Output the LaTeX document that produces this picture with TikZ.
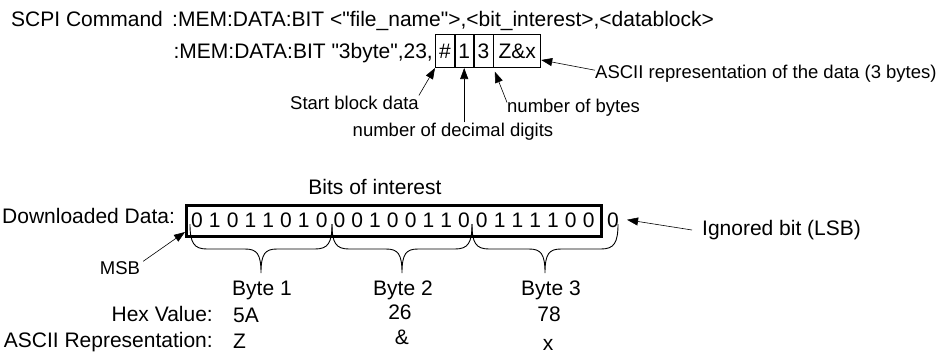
\documentclass[tikz,border=0pt]{standalone}
\usepackage{fontspec}
\setmainfont{Liberation Sans}[Ligatures=TeXOff]
\usetikzlibrary{arrows.meta}

\begin{document}
\begin{tikzpicture}[x=1pt,y=-1pt,
    txt/.style={font=\fontsize{21}{25}\selectfont,inner sep=0pt},
    note/.style={font=\fontsize{18.5}{22}\selectfont,inner sep=0pt},
    cell/.style={txt,draw,line width=0.8pt,minimum height=33pt,anchor=south west},
    pointer/.style={-{Triangle[length=11pt,width=8pt]},line width=0.6pt},
    brace/.style={line width=0.9pt}]
    \useasboundingbox (0,0) rectangle (938,357);
    \node[txt,anchor=base west](scpi) at (11,26){SCPI Command};
    \node[txt,anchor=base west](syntax) at (172,26){:MEM:DATA:BIT <"file\_name">,<bit\_interest>,<datablock>};
    \node[txt,anchor=base east](cmd) at (433,58){:MEM:DATA:BIT "3byte",23,};
    \node[cell,minimum width=19pt](hash) at (435,68){\#};%block header
    \node[cell,minimum width=18pt](one) at (hash.south east){1};
    \node[cell,minimum width=19pt](three) at (one.south east){3};
    \node[cell,minimum width=47pt](zx) at (three.south east){Z\&x};
    \node[note,anchor=base west](startlbl) at (290,109){Start block data};
    \node[note,anchor=base](declbl) at (453,136){number of decimal digits};
    \node[note,anchor=base west](byteslbl) at (507,112){number of bytes};
    \node[note,anchor=base west](asciilbl) at (595,78){ASCII representation of the data (3 bytes)};
    \draw[pointer](startlbl.north east)--(hash.south west);
    \draw[pointer](one.south |- declbl.north)--(one.south);
    \draw[pointer,shorten >=4pt]([yshift=-4pt]byteslbl.north west)--(three.south east);
    \draw[pointer]([yshift=3pt]asciilbl.west)--([yshift=8pt]zx.south east);
    %downloaded bits
    \node[txt](bitslbl) at (375,187){Bits of interest};
    \node[txt,anchor=base west](dllbl) at (2,223){Downloaded Data:};
    \node[draw,line width=3pt,minimum width=415pt,minimum height=31pt,anchor=north west](databox) at (185,204){};
    \foreach \b [count=\i] in {0,1,0,1,1,0,1,0,0,0,1,0,0,1,1,0,0,1,1,1,1,0,0}
        \node[txt,anchor=base](bit\i) at ({197+17.8*(\i-1)},227){\b};
    \node[txt,anchor=base](bit24) at (613,227){0};
    \foreach \a/\b in {190/332,332/472,472/618}{
        \pgfmathsetmacro\m{(\a+\b)/2}
        \draw[brace](\a,224) .. controls (\a,243) and (\a+4,249) .. (\a+17,249)--(\m-16,249)
            .. controls (\m-4,249) and (\m,254) .. (\m,273)
            .. controls (\m,254) and (\m+4,249) .. (\m+16,249)--(\b-17,249)
            .. controls (\b-4,249) and (\b,243) .. (\b,224);
    }
    \node[note](msb) at (120,268){MSB};
    \draw[pointer]([xshift=3pt]msb.north east)--([yshift=6pt]databox.south west);
    \node[txt,anchor=west](ignlbl) at (702,230){Ignored bit (LSB)};
    \draw[pointer]([xshift=-10pt]ignlbl.west)--([xshift=8pt]bit24.east);
    %values
    \node[txt,anchor=base](byte1) at (262,295){Byte 1};
    \node[txt,anchor=base](byte2) at (403,295){Byte 2};
    \node[txt,anchor=base](byte3) at (551,295){Byte 3};
    \node[txt,anchor=base east](hexlbl) at (213,321){Hex Value:};
    \node[txt,anchor=base west](hex1) at (233,322){5A};
    \node[txt,anchor=base](hex2) at (400,319){26};
    \node[txt,anchor=base](hex3) at (549,321){78};
    \node[txt,anchor=base east](asclbl) at (213,347){ASCII Representation:};
    \node[txt,anchor=base west](asc1) at (233,348){Z};
    \node[txt,anchor=base](asc2) at (402,344){\&};
    \node[txt,anchor=base](asc3) at (548,350){x};
\end{tikzpicture}
\end{document}
